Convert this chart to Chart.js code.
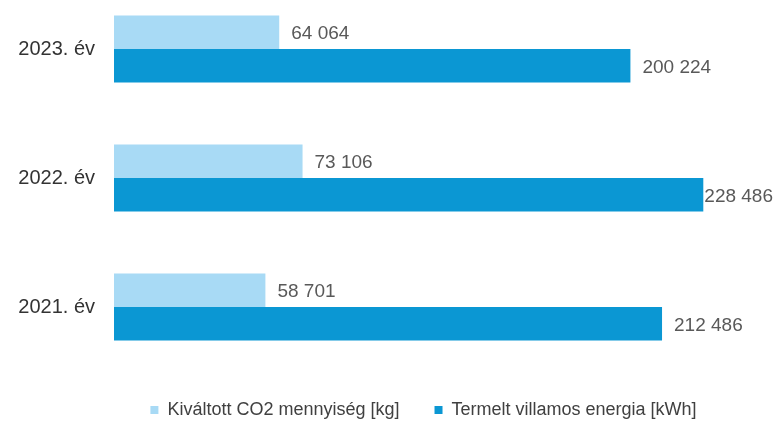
<!DOCTYPE html>
<html lang="hu">
<head>
<meta charset="utf-8">
<title>Napelemes termelés</title>
<script src="https://cdn.jsdelivr.net/npm/chart.js@4.4.1/dist/chart.umd.min.js"></script>
<style>
    html, body { margin: 0; padding: 0; background: #fff; }
    #wrap { width: 774px; height: 424px; position: relative; }
</style>
</head>
<body>
<div id="wrap"><canvas id="chart"></canvas></div>
<script>
// Adatok
const evek = ['2023. év', '2022. év', '2021. év'];
const co2Ertekek = [64064, 73106, 58701];
const energiaErtekek = [200224, 228486, 212486];
const sorozatNevek = ['Kiváltott CO2 mennyiség [kg]', 'Termelt villamos energia [kWh]'];
const xMax = 240000;

const betu = '"Liberation Sans", Arial, sans-serif';

// ezres tagolás szóközzel
function formatSzam(v) {
    return String(v).replace(/\B(?=(\d{3})+(?!\d))/g, ' ');
}

// Értékfeliratok a sávok végén
const ertekCimkek = {
    id: 'ertekCimkek',
    afterDatasetsDraw(chart) {
        const ctx = chart.ctx;
        ctx.save();
        ctx.font = '19px ' + betu;
        ctx.fillStyle = '#595959';
        ctx.textBaseline = 'middle';
        ctx.textAlign = 'left';
        chart.data.datasets.forEach((ds, i) => {
            chart.getDatasetMeta(i).data.forEach((bar, j) => {
                const szoveg = formatSzam(ds.data[j]);
                const w = ctx.measureText(szoveg).width;
                let x = bar.x + 12;
                // ha nem fér ki, a vászon széléhez igazítjuk
                if (x + w > chart.width - 1) x = chart.width - 1 - w;
                ctx.fillText(szoveg, x, bar.y + 2);
            });
        });
        ctx.restore();
    }
};

const ctx = document.getElementById('chart').getContext('2d');
new Chart(ctx, {
    type: 'bar',
    data: {
        labels: evek,
        datasets: [{
            label: sorozatNevek[0],
            data: co2Ertekek,
            backgroundColor: '#a8daf5',
            categoryPercentage: 0.52,
            barPercentage: 1.0,
            clip: false
        }, {
            label: sorozatNevek[1],
            data: energiaErtekek,
            backgroundColor: '#0b97d3',
            categoryPercentage: 0.52,
            barPercentage: 1.0,
            clip: false
        }]
    },
    options: {
        indexAxis: 'y',
        responsive: true,
        maintainAspectRatio: false,
        animation: false,
        layout: { padding: { top: 49, right: 41, left: 0, bottom: 0 } },
        scales: {
            y: {
                type: 'category',
                offset: false,
                grid: { display: false, drawTicks: false },
                border: { display: false },
                ticks: { color: '#333', font: { size: 20, family: betu }, padding: 19 },
                afterFit: (s) => { s.width = 114; }
            },
            x: {
                min: 0,
                max: xMax,
                grid: { display: false, drawTicks: false },
                border: { display: false },
                ticks: { display: false },
                afterFit: (s) => { s.height = 59; }
            }
        },
        plugins: {
            legend: {
                position: 'bottom',
                fullSize: false,
                maxHeight: 58,
                labels: {
                    boxWidth: 8,
                    boxHeight: 8,
                    padding: 35,
                    color: '#404040',
                    font: { size: 18, family: betu }
                }
            },
            tooltip: { enabled: false }
        }
    },
    plugins: [ertekCimkek]
});
</script>
</body>
</html>
